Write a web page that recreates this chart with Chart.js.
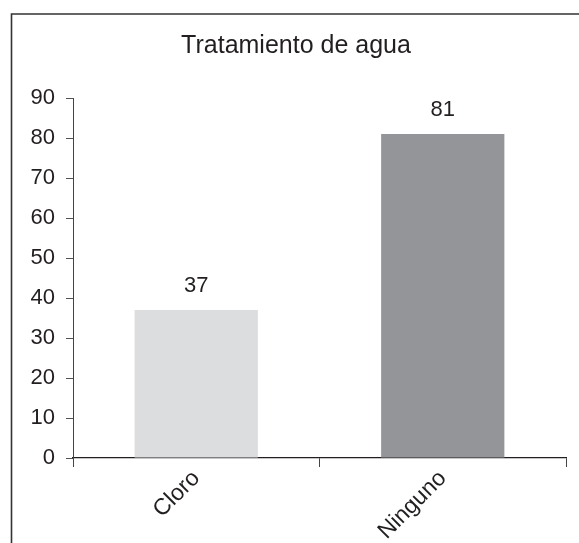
<!DOCTYPE html>
<html>
<head>
<meta charset="utf-8">
<script src="https://cdn.jsdelivr.net/npm/chart.js@4/dist/chart.umd.min.js"></script>
<style>
html,body{margin:0;padding:0;background:#fff;}
#wrap{position:relative;width:579px;height:543px;}
</style>
</head>
<body>
<div id="wrap"><canvas id="c" width="579" height="543"></canvas></div>
<script>
const categories = ['Cloro', 'Ninguno'];
const values = [37, 81];
const barColors = ['#dcdddf', '#939598'];
const yTicks = [0, 10, 20, 30, 40, 50, 60, 70, 80, 90];
const titleText = 'Tratamiento de agua';

const FONT = "'Liberation Sans', Arial, sans-serif";
const TXT = '#231f20';

const framePlugin = {
  id: 'frame',
  afterDraw(chart) {
    const ctx = chart.ctx;
    ctx.save();
    ctx.strokeStyle = '#333';
    ctx.lineWidth = 1.6;
    ctx.beginPath();
    ctx.moveTo(11.5, 543);
    ctx.lineTo(11.5, 14);
    ctx.lineTo(579, 14);
    ctx.stroke();
    ctx.font = "25px " + FONT;
    ctx.fillStyle = TXT;
    ctx.textAlign = 'center';
    ctx.textBaseline = 'alphabetic';
    ctx.fillText(titleText, 296, 53);
    ctx.restore();
  }
};

const labelPlugin = {
  id: 'valueLabels',
  afterDatasetsDraw(chart) {
    const ctx = chart.ctx;
    const meta = chart.getDatasetMeta(0);
    ctx.save();
    ctx.font = "22px " + FONT;
    ctx.fillStyle = TXT;
    ctx.textAlign = 'center';
    ctx.textBaseline = 'alphabetic';
    meta.data.forEach((bar, i) => {
      ctx.fillText(String(values[i]), bar.x, bar.y - 18);
    });
    ctx.restore();
  }
};

new Chart(document.getElementById('c'), {
  type: 'bar',
  data: {
    labels: categories,
    datasets: [{
      data: values,
      backgroundColor: barColors,
      borderWidth: 0,
      categoryPercentage: 1.0,
      barPercentage: 0.5
    }]
  },
  options: {
    responsive: false,
    animation: false,
    devicePixelRatio: 1,
    layout: { padding: { left: 12, right: 13, top: 98, bottom: 0 } },
    plugins: {
      legend: { display: false },
      tooltip: { enabled: false },
      title: { display: false }
    },
    scales: {
      x: {
        offset: true,
        grid: {
          offset: true,
          drawOnChartArea: false,
          drawTicks: true,
          tickLength: 9,
          color: '#444',
          lineWidth: 1
        },
        border: { display: true, color: '#231f20', width: 1.3 },
        ticks: {
          color: TXT,
          font: { family: FONT, size: 23 },
          minRotation: 45,
          maxRotation: 45,
          padding: -2
        },
        afterFit(scale) { scale.height = 85; }
      },
      y: {
        min: 0,
        max: 90,
        afterBuildTicks(scale) { scale.ticks = yTicks.map(v => ({ value: v })); },
        grid: {
          drawOnChartArea: false,
          drawTicks: true,
          tickLength: 7,
          color: '#555',
          lineWidth: 1
        },
        border: { display: true, color: '#444', width: 1 },
        ticks: {
          color: TXT,
          font: { family: FONT, size: 22 },
          padding: 11
        },
        afterFit(scale) { scale.width = 61; }
      }
    }
  },
  plugins: [framePlugin, labelPlugin]
});
</script>
</body>
</html>
